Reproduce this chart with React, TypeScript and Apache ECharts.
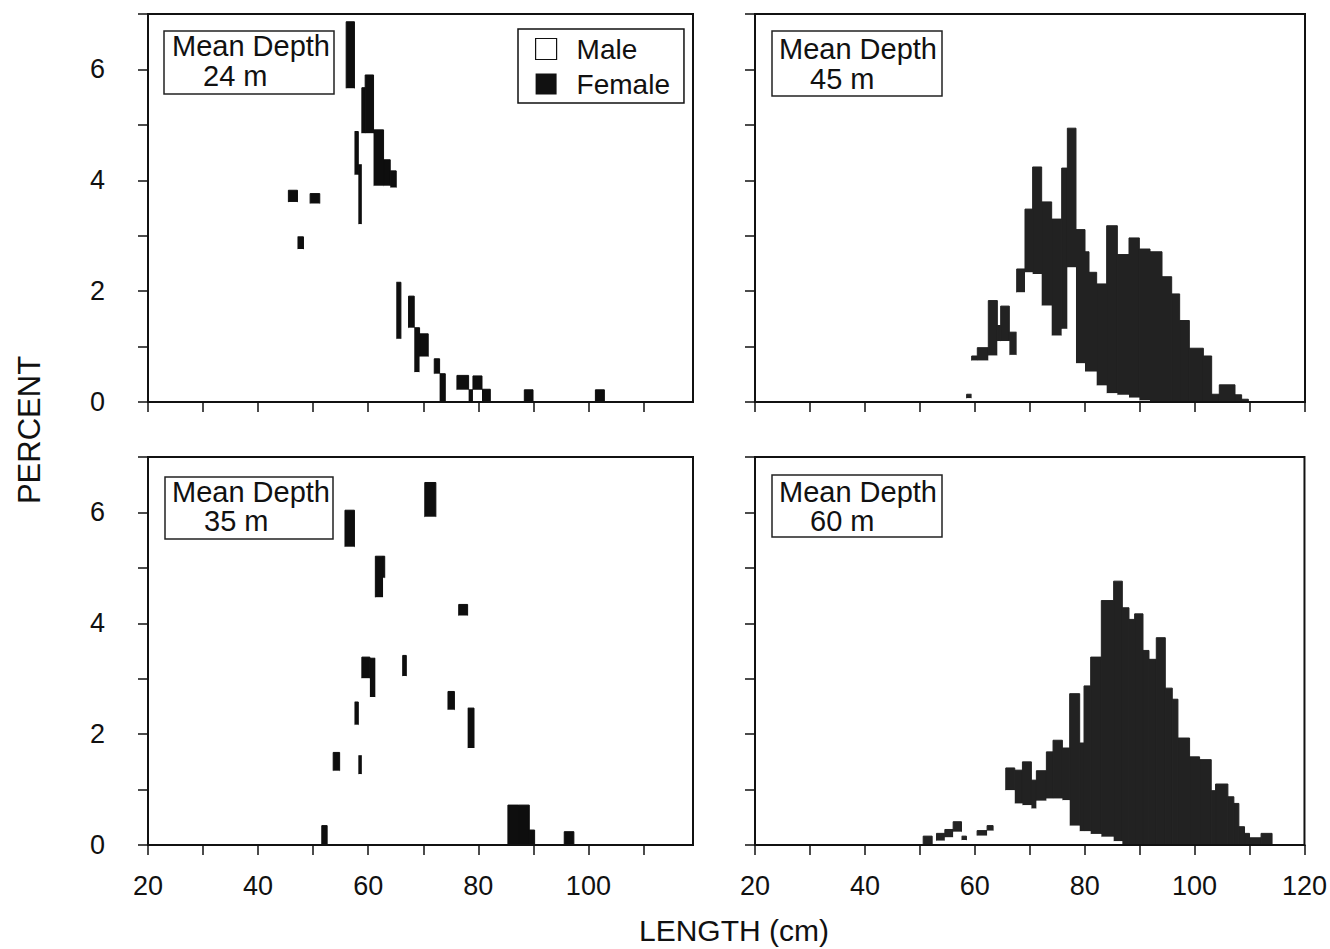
import React, { useEffect, useRef } from "react";
import * as echarts from "echarts";

const FONT = '"Liberation Sans", Arial, Helvetica, sans-serif';

// ---- Data: bin boundaries (cm), female and male percentages per bin ----
// Mean depth 24 m
const d24Edges = [45.5, 47.15, 48.24, 49.45, 51.2, 56.0, 57.5, 58.2, 58.85, 59.45, 60.97, 62.79, 64.0, 65.09, 65.94, 67.33, 68.36, 69.33, 70.9, 72.0, 72.97, 74.0, 76.12, 78.24, 79.03, 80.67, 82.18, 88.36, 89.94, 101.27, 102.9];
const d24Female = [3.82, 2.98, 0, 3.76, 0, 6.86, 4.88, 4.28, 5.67, 5.9, 4.91, 4.37, 4.17, 2.16, 0, 1.91, 1.34, 1.23, 0, 0.78, 0.51, 0, 0.48, 0.22, 0.47, 0.23, 0, 0.22, 0, 0.22];
const d24Male = [3.61, 2.76, 0, 3.58, 0, 5.66, 4.1, 3.21, 4.85, 4.85, 3.9, 3.9, 3.87, 1.14, 0, 1.34, 0.54, 0.82, 0, 0.51, 0, 0, 0.22, 0, 0.22, 0, 0, 0, 0, 0];

// Mean depth 45 m
const d45Edges = [58.48, 59.39, 60.42, 62.42, 64.06, 64.67, 66.24, 67.58, 69.09, 70.48, 72.12, 73.94, 75.76, 76.79, 78.36, 80.0, 80.73, 82.12, 83.94, 85.88, 88.0, 89.88, 91.82, 94.0, 95.76, 97.21, 98.97, 101.52, 103.03, 104.42, 107.27, 108.48, 109.7];
const d45Female = [0.14, 0.83, 0.98, 1.83, 1.38, 1.73, 1.26, 2.4, 3.48, 4.24, 3.61, 3.3, 4.22, 4.94, 3.11, 2.71, 2.34, 2.13, 3.18, 2.66, 2.96, 2.76, 2.71, 2.26, 1.95, 1.47, 0.97, 0.83, 0.14, 0.31, 0.13, 0.05];
const d45Male = [0.07, 0.75, 0.75, 0.84, 1.1, 1.1, 0.85, 1.98, 2.34, 2.31, 1.74, 1.2, 1.32, 2.43, 0.7, 0.55, 0.55, 0.3, 0.16, 0.13, 0.08, 0.03, 0, 0, 0, 0, 0, 0, 0, 0, 0, 0];

// Mean depth 35 m
const d35Edges = [51.57, 52.54, 53.64, 54.81, 55.78, 57.5, 58.2, 58.85, 60.3, 61.3, 62.7, 63.0, 66.27, 66.92, 70.28, 72.29, 74.49, 75.66, 76.44, 78.06, 79.22, 85.38, 87.32, 89.26, 90.23, 95.61, 97.36];
const d35Female = [0.35, 0, 1.67, 0, 6.04, 2.58, 1.61, 3.39, 3.37, 5.21, 5.21, 0, 3.42, 0, 6.54, 0, 2.77, 0, 4.34, 2.47, 0, 0.72, 0.72, 0.27, 0, 0.24];
const d35Male = [0, 0, 1.34, 0, 5.38, 2.17, 1.28, 3.01, 2.67, 4.47, 4.82, 0, 3.05, 0, 5.92, 0, 2.44, 0, 4.14, 1.75, 0, 0, 0, 0, 0, 0];

// Mean depth 60 m
const d60Edges = [50.61, 52.24, 53.03, 54.55, 56.06, 57.58, 58.48, 60.42, 62.24, 63.33, 65.64, 67.27, 68.67, 70.3, 71.21, 73.03, 74.24, 75.94, 77.27, 79.09, 79.88, 81.09, 83.03, 85.27, 86.85, 88.06, 89.09, 90.61, 91.7, 93.03, 94.67, 95.94, 96.97, 99.09, 100.91, 103.03, 103.82, 106.06, 107.15, 108.06, 109.09, 110.0, 112.1, 114.1];
const d60Female = [0.16, 0, 0.21, 0.28, 0.42, 0.16, 0, 0.26, 0.35, 0, 1.39, 1.35, 1.5, 1.17, 1.34, 1.68, 1.89, 1.75, 2.73, 1.84, 2.87, 3.39, 4.41, 4.76, 4.28, 4.07, 4.17, 3.51, 3.35, 3.74, 2.83, 2.63, 1.93, 1.59, 1.54, 0.98, 1.1, 0.87, 0.75, 0.33, 0.21, 0.13, 0.21];
const d60Male = [0, 0, 0.08, 0.14, 0.24, 0.09, 0, 0.17, 0.26, 0, 0.99, 0.75, 0.72, 0.66, 0.8, 0.84, 0.84, 0.81, 0.35, 0.25, 0.25, 0.2, 0.15, 0.07, 0, 0, 0, 0, 0, 0, 0, 0, 0, 0, 0, 0, 0, 0, 0, 0, 0, 0, 0];

const depthLabels = ["24 m", "45 m", "35 m", "60 m"];
const xTicksLeft = [20, 30, 40, 50, 60, 70, 80, 90, 100, 110];
const xTicksRight = [20, 30, 40, 50, 60, 70, 80, 90, 100, 110, 120];
const xLabelsLeft = [20, 40, 60, 80, 100];
const xLabelsRight = [20, 40, 60, 80, 100, 120];
const yTicks = [0, 1, 2, 3, 4, 5, 6, 7];
const yLabels = [0, 2, 4, 6];

// Female bars sit behind the white male bars: only the part of each female
// bar that rises above the male bar of the same bin remains visible.
function femaleVisible(edges: number[], female: number[], male: number[]) {
  const out: number[][] = [];
  for (let i = 0; i < female.length; i++) {
    if (female[i] > male[i]) out.push([edges[i], edges[i + 1], female[i], male[i]]);
  }
  return out;
}
function maleBins(edges: number[], male: number[]) {
  const out: number[][] = [];
  for (let i = 0; i < male.length; i++) {
    if (male[i] > 0) out.push([edges[i], edges[i + 1], male[i], 0]);
  }
  return out;
}

export default function App() {
  const ref = useRef<HTMLDivElement>(null);

  useEffect(() => {
    if (!ref.current) return;
    const chart = echarts.init(ref.current, null, { renderer: "svg" });

    const panels = [
      { edges: d24Edges, female: d24Female, male: d24Male, depth: depthLabels[0], left: 148, top: 14, width: 545, xMax: 119, xLab: false, yLab: true, fcol: "#0e0e0e", box: [164, 31, 170, 63, 172, 46, 203, 76] },
      { edges: d45Edges, female: d45Female, male: d45Male, depth: depthLabels[1], left: 755, top: 14, width: 550, xMax: 120, xLab: false, yLab: false, fcol: "#222222", box: [772, 31, 170, 65, 779, 49, 810, 79] },
      { edges: d35Edges, female: d35Female, male: d35Male, depth: depthLabels[2], left: 148, top: 457, width: 545, xMax: 119, xLab: true, yLab: true, fcol: "#0e0e0e", box: [165, 477, 168, 62, 172, 492, 204, 521] },
      { edges: d60Edges, female: d60Female, male: d60Male, depth: depthLabels[3], left: 755, top: 457, width: 550, xMax: 120, xLab: true, yLab: false, fcol: "#222222", box: [772, 475, 170, 62, 779, 492, 810, 521] },
    ];

    const grid: any[] = [];
    const xAxis: any[] = [];
    const yAxis: any[] = [];
    const series: any[] = [];
    const graphic: any[] = [];

    panels.forEach((p, i) => {
      grid.push({
        left: p.left, top: p.top, width: p.width, height: 388,
        show: true, borderColor: "#111", borderWidth: 2, backgroundColor: "transparent",
      });
      const rightSide = p.xMax === 120;
      xAxis.push({
        type: "value", gridIndex: i, min: 20, max: p.xMax, z: 10,
        splitLine: { show: false },
        axisLine: { show: true, lineStyle: { color: "#111", width: 2 } },
        axisTick: { show: true, inside: false, length: 10, customValues: rightSide ? xTicksRight : xTicksLeft, lineStyle: { color: "#111", width: 1.5 } },
        axisLabel: {
          show: p.xLab, customValues: rightSide ? xLabelsRight : xLabelsLeft,
          fontSize: 27, fontFamily: FONT, color: "#111", margin: 27,
        },
      });
      yAxis.push({
        type: "value", gridIndex: i, min: 0, max: 7, z: 10,
        splitLine: { show: false },
        axisLine: { show: true, lineStyle: { color: "#111", width: 2 } },
        axisTick: { show: true, inside: false, length: 10, customValues: yTicks, lineStyle: { color: "#111", width: 1.5 } },
        axisLabel: {
          show: p.yLab, customValues: yLabels,
          fontSize: 27, fontFamily: FONT, color: "#111", margin: 43,
        },
      });

      const makeRender = (fill: string, stroke: boolean) => (params: any, api: any) => {
        const x0 = api.value(0);
        const x1 = api.value(1);
        const top = api.value(2);
        const base = api.value(3);
        const a = api.coord([x0, top]);
        const b = api.coord([x1, base]);
        return {
          type: "rect",
          shape: { x: a[0], y: a[1], width: b[0] - a[0], height: b[1] - a[1] },
          style: stroke ? { fill, stroke: fill, lineWidth: 1 } : { fill, stroke: "none", lineWidth: 0 },
        };
      };

      series.push({
        type: "custom", name: "Female", xAxisIndex: i, yAxisIndex: i, z: 2,
        itemStyle: { color: "#111" },
        encode: { x: [0, 1], y: [2, 3] },
        data: femaleVisible(p.edges, p.female, p.male),
        renderItem: makeRender(p.fcol, true),
        silent: true,
      });
      series.push({
        type: "custom", name: "Male", xAxisIndex: i, yAxisIndex: i, z: 3,
        itemStyle: { color: "#ffffff" },
        encode: { x: [0, 1], y: [2, 3] },
        data: maleBins(p.edges, p.male),
        renderItem: makeRender("#ffffff", false),
        silent: true,
      });

      const [bx, by, bw, bh, t1x, t1y, t2x, t2y] = p.box;
      graphic.push({
        type: "rect", x: bx, y: by, z: 20,
        shape: { x: 0, y: 0, width: bw, height: bh },
        style: { fill: "#fff", stroke: "#222", lineWidth: 1.5 },
      });
      graphic.push({
        type: "text", x: t1x, y: t1y, z: 21,
        style: { text: "Mean Depth", fontSize: 29, fontFamily: FONT, fill: "#111", align: "left", verticalAlign: "middle", textAlign: "left", textVerticalAlign: "middle" },
      });
      graphic.push({
        type: "text", x: t2x, y: t2y, z: 21,
        style: { text: p.depth, fontSize: 29, fontFamily: FONT, fill: "#111", align: "left", verticalAlign: "middle", textAlign: "left", textVerticalAlign: "middle" },
      });
    });

    graphic.push({
      type: "text", x: 29, y: 430, rotation: Math.PI / 2, z: 21,
      style: { text: "PERCENT", fontSize: 31, fontFamily: FONT, fill: "#111", align: "center", verticalAlign: "middle", textAlign: "center", textVerticalAlign: "middle" },
    });
    graphic.push({
      type: "text", x: 734, y: 930, z: 21,
      style: { text: "LENGTH (cm)", fontSize: 30, fontFamily: FONT, fill: "#111", align: "center", verticalAlign: "middle", textAlign: "center", textVerticalAlign: "middle" },
    });

    chart.setOption({
      animation: false,
      backgroundColor: "#ffffff",
      grid,
      xAxis,
      yAxis,
      series,
      graphic,
      legend: {
        show: true,
        selectedMode: false,
        orient: "vertical",
        left: 518,
        top: 29,
        padding: [6, 14, 5, 17],
        itemWidth: 21,
        itemHeight: 21,
        itemGap: 7,
        borderColor: "#111",
        borderWidth: 1.5,
        backgroundColor: "#fff",
        z: 20,
        textStyle: { fontSize: 28, fontFamily: FONT, color: "#111", padding: [0, 0, 0, 15] },
        data: [
          { name: "Male", icon: "rect", itemStyle: { color: "#ffffff", borderColor: "#111", borderWidth: 1.2 } },
          { name: "Female", icon: "rect", itemStyle: { color: "#111", borderColor: "#111", borderWidth: 0 } },
        ],
      },
    });

    return () => chart.dispose();
  }, []);

  return (
    <div
      ref={ref}
      style={{ position: "fixed", left: 0, top: 0, width: 1330, height: 949, background: "#fff" }}
    />
  );
}
